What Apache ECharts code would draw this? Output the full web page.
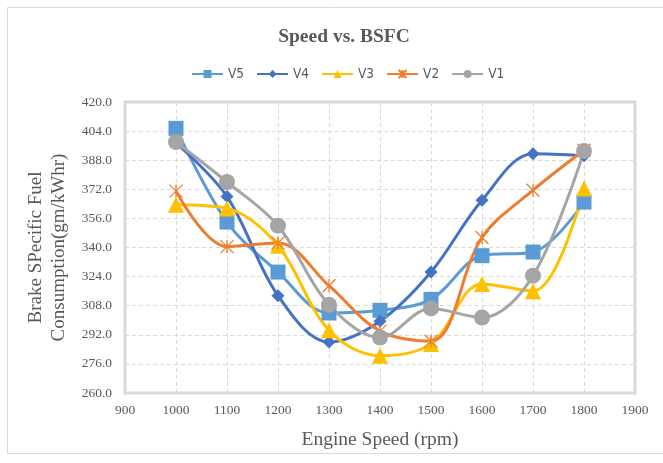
<!DOCTYPE html>
<html>
<head>
<meta charset="utf-8">
<script src="https://cdn.jsdelivr.net/npm/echarts@6/dist/echarts.min.js"></script>
<style>
  html, body { margin: 0; padding: 0; background: #fff; }
  #chart { width: 663px; height: 463px; }
</style>
</head>
<body>
<div id="chart"></div>
<script>
// Engine speed (rpm) and brake specific fuel consumption (gm/kWhr) per variant
const speeds = [1000, 1100, 1200, 1300, 1400, 1500, 1600, 1700, 1800];
const v5 = [405.5, 354, 326.5, 304, 305.5, 311.5, 335.5, 337.5, 365];
const v4 = [397.5, 368, 313.5, 288, 299.5, 326.5, 366, 391.5, 390.5];
const v3 = [363.5, 361.5, 341, 294.5, 280.5, 287, 320, 316, 372.5];
const v2 = [371, 340.5, 342.5, 319, 294, 288.5, 345.5, 371.5, 393.5];
const v1 = [398, 376, 352, 308.5, 290.5, 306.5, 301.5, 324.5, 393];

const yTicks = { min: 260, max: 420, step: 16 };
const xTicks = { min: 900, max: 1900, step: 100 };

const serif = '"Liberation Serif", "Times New Roman", serif';
const narrow = '"Liberation Sans Narrow", "DejaVu Sans Condensed", "Liberation Sans", sans-serif';

const starPath = 'path://M0,0L10,10M10,0L0,10M5,0L5,10';

function pairs(vals) {
  return speeds.map((s, i) => [s, vals[i]]);
}

function makeSeries(name, vals, color, symbol, size, extra) {
  return Object.assign({
    name: name,
    type: 'line',
    smooth: 0.35,
    data: pairs(vals),
    symbol: symbol,
    symbolSize: size,
    lineStyle: { color: color, width: 3 },
    itemStyle: { color: color },
    emphasis: { disabled: true }
  }, extra || {});
}

const chart = echarts.init(document.getElementById('chart'), null, { renderer: 'canvas' });

chart.setOption({
  animation: false,
  backgroundColor: '#fff',
  graphic: [{
    type: 'rect',
    shape: { x: 7.5, y: 7.5, width: 660, height: 446 },
    style: { fill: 'none', stroke: '#D9D9D9', lineWidth: 1 },
    silent: true
  }],
  title: {
    text: 'Speed vs. BSFC',
    left: 339,
    textAlign: 'center',
    top: 22,
    textStyle: { fontFamily: serif, fontWeight: 'bold', fontSize: 19.5, color: '#595959' }
  },
  legend: {
    top: 62,
    left: 186,
    itemWidth: 31,
    itemHeight: 10,
    itemGap: 12,
    textStyle: { fontFamily: narrow, fontSize: 13.5, color: '#595959' },
    data: ['V5', 'V4', 'V3', 'V2', 'V1']
  },
  grid: {
    left: 125, right: 28, top: 102, bottom: 70,
    show: true,
    borderColor: '#D9D9D9',
    borderWidth: 3,
    containLabel: false
  },
  xAxis: {
    type: 'value',
    min: xTicks.min, max: xTicks.max, interval: xTicks.step,
    name: 'Engine Speed (rpm)',
    nameLocation: 'middle',
    nameGap: 37,
    nameTextStyle: { fontFamily: serif, fontSize: 19.5, color: '#595959' },
    axisLine: { show: false },
    axisTick: { show: false },
    axisLabel: {
      fontFamily: serif, fontSize: 13.5, color: '#595959', margin: 10,
      formatter: v => String(v)
    },
    splitLine: { show: true, lineStyle: { color: '#D9D9D9', type: [4, 3], width: 1 } }
  },
  yAxis: {
    type: 'value',
    min: yTicks.min, max: yTicks.max, interval: yTicks.step,
    name: 'Brake SPecific Fuel\nConsumption(gm/kWhr)',
    nameLocation: 'middle',
    nameGap: 52,
    nameRotate: 90,
    nameTextStyle: { fontFamily: serif, fontSize: 19, color: '#595959', lineHeight: 23 },
    axisLine: { show: false },
    axisTick: { show: false },
    axisLabel: {
      fontFamily: serif, fontSize: 13.5, color: '#595959', margin: 13,
      formatter: v => v.toFixed(1)
    },
    splitLine: { show: true, lineStyle: { color: '#D9D9D9', type: [4, 3], width: 1 } }
  },
  series: [
    makeSeries('V5', v5, '#5B9BD5', 'rect', 15),
    makeSeries('V4', v4, '#4472C4', 'diamond', 13),
    makeSeries('V3', v3, '#FFC000', 'triangle', 16),
    makeSeries('V2', v2, '#ED7D31', starPath, 13, {
      itemStyle: { color: 'none', borderColor: '#ED7D31', borderWidth: 1.3 }
    }),
    makeSeries('V1', v1, '#A5A5A5', 'circle', 16)
  ]
});
</script>
</body>
</html>
